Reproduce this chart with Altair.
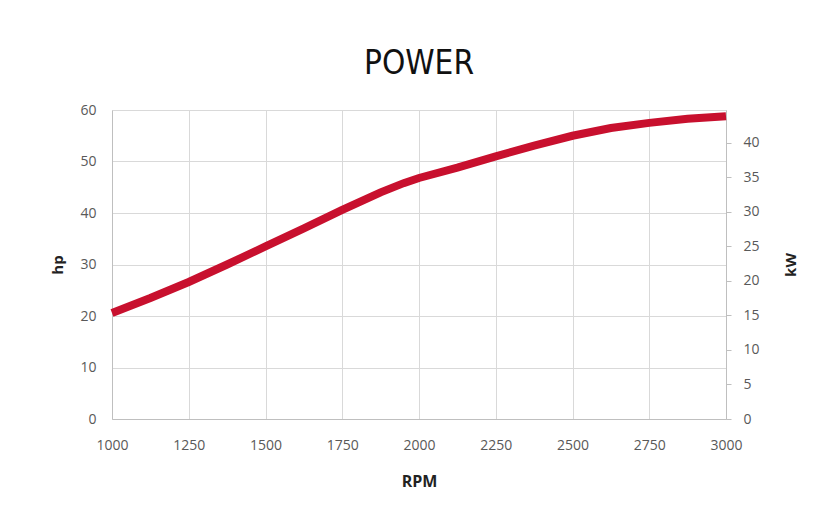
import altair as alt
import pandas as pd

rpm = [1000, 1125, 1250, 1375, 1500, 1625, 1750, 1875, 1950, 2000, 2125, 2250, 2375, 2500, 2625, 2750, 2875, 3000]
hp = [20.6, 23.5, 26.6, 30.0, 33.5, 37.0, 40.6, 44.0, 45.8, 46.8, 48.8, 51.0, 53.1, 55.0, 56.5, 57.5, 58.3, 58.8]
x_ticks = [1000, 1250, 1500, 1750, 2000, 2250, 2500, 2750, 3000]
hp_ticks = [0, 10, 20, 30, 40, 50, 60]
kw_ticks = [0, 5, 10, 15, 20, 25, 30, 35, 40]
HP_TO_KW = 0.7457

df = pd.DataFrame({"rpm": rpm, "hp": hp})
df["kw"] = df["hp"] * HP_TO_KW

W, H = 614, 309
label_font = "Open Sans"
label_color = "#595959"
LFS = 14

x_enc = alt.X("rpm:Q", scale=alt.Scale(domain=[1000, 3000], nice=False),
              axis=alt.Axis(values=x_ticks, title="RPM", format="d",
                            grid=True, gridColor="#d9d9d9", ticks=False,
                            domainColor="#bfbfbf", labelPadding=19, labelFlush=False,
                            labelFont=label_font, labelFontSize=LFS, labelColor=label_color,
                            titleFont="Open Sans", titleFontSize=16, titleFontWeight="bold",
                            titleColor="#222222", titleX=W / 2, titleY=62,
                            titleAlign="center", titleBaseline="middle"))

hp_line = alt.Chart(df).mark_line(color="#c8102e", strokeWidth=8, strokeCap="butt").encode(
    x=x_enc,
    y=alt.Y("hp:Q", scale=alt.Scale(domain=[0, 60], nice=False),
            axis=alt.Axis(values=hp_ticks, title="hp", orient="left",
                          grid=True, gridColor="#d9d9d9", ticks=False,
                          domainColor="#bfbfbf", labelPadding=16,
                          labelFont=label_font, labelFontSize=LFS, labelColor=label_color,
                          titleFont="Open Sans", titleFontSize=15, titleFontWeight="bold",
                          titleColor="#222222", titleX=-55, titleY=H / 2,
                          titleAngle=270, titleAlign="center", titleBaseline="middle")),
)

kw_line = alt.Chart(df).mark_line(strokeOpacity=0).encode(
    x=x_enc,
    y=alt.Y("kw:Q", scale=alt.Scale(domain=[0, 60 * HP_TO_KW], nice=False),
            axis=alt.Axis(values=kw_ticks, title="kW", orient="right",
                          grid=False, ticks=True, tickSize=5, tickColor="#bfbfbf",
                          domainColor="#bfbfbf", labelPadding=12,
                          labelFont=label_font, labelFontSize=LFS, labelColor=label_color,
                          titleFont="Open Sans", titleFontSize=15, titleFontWeight="bold",
                          titleColor="#222222", titleX=64, titleY=H / 2,
                          titleAngle=270, titleAlign="center", titleBaseline="middle")),
)

chart = alt.layer(hp_line, kw_line).resolve_scale(y="independent").properties(
    width=W, height=H,
    title=alt.TitleParams("POWER", font="Liberation Sans Narrow, DejaVu Sans Condensed, sans-serif",
                          fontSize=33, fontWeight="normal", color="#111111",
                          anchor="middle", baseline="alphabetic", offset=-7),
    autosize=alt.AutoSizeParams(type="none"),
    padding={"left": 104, "top": 102, "right": 86, "bottom": 83},
    background="white",
).configure_view(stroke=None)

chart.save("out.html", embed_options={"renderer": "svg", "actions": False})
